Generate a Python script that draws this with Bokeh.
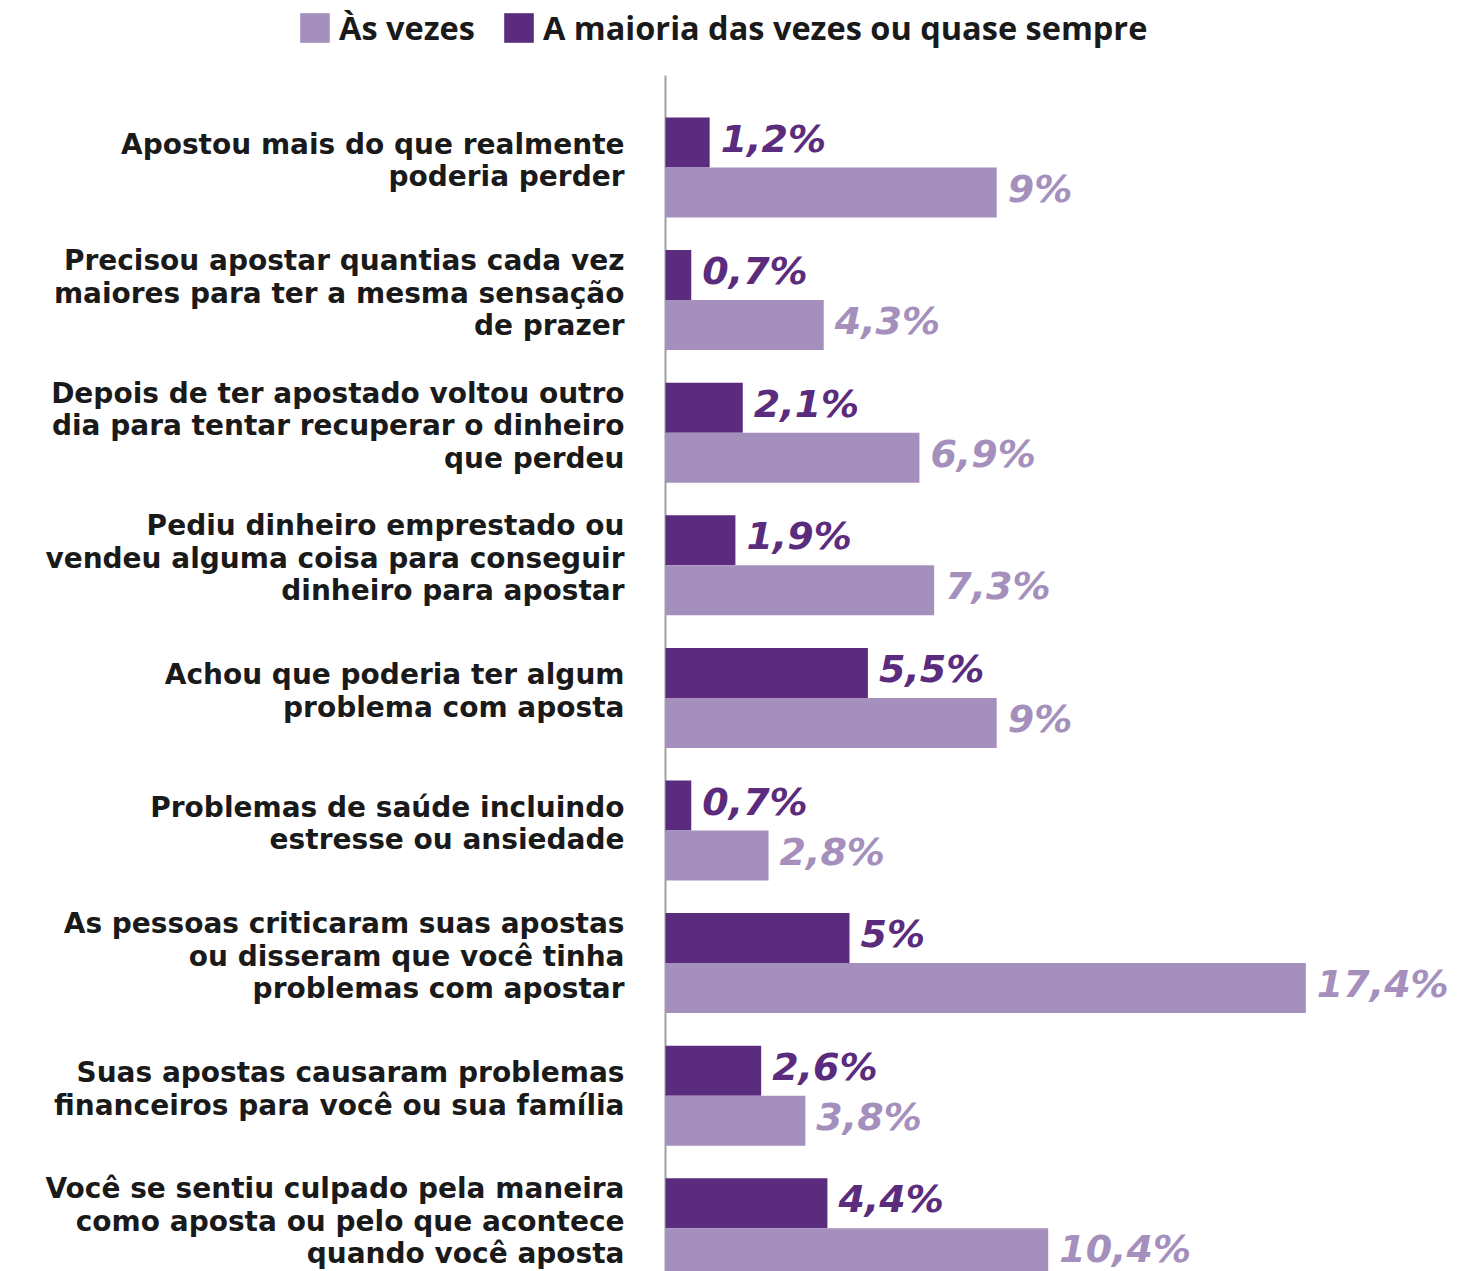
from bokeh.plotting import figure
from bokeh.models import Range1d, ColumnDataSource, Legend, LegendItem
from bokeh.core.properties import value
from bokeh.embed import file_html
from bokeh.resources import INLINE

categories = [
    "Apostou mais do que realmente\npoderia perder",
    "Precisou apostar quantias cada vez\nmaiores para ter a mesma sensação\nde prazer",
    "Depois de ter apostado voltou outro\ndia para tentar recuperar o dinheiro\nque perdeu",
    "Pediu dinheiro emprestado ou\nvendeu alguma coisa para conseguir\ndinheiro para apostar",
    "Achou que poderia ter algum\nproblema com aposta",
    "Problemas de saúde incluindo\nestresse ou ansiedade",
    "As pessoas criticaram suas apostas\nou disseram que você tinha\nproblemas com apostar",
    "Suas apostas causaram problemas\nfinanceiros para você ou sua família",
    "Você se sentiu culpado pela maneira\ncomo aposta ou pelo que acontece\nquando você aposta",
]
as_vezes = [9, 4.3, 6.9, 7.3, 9, 2.8, 17.4, 3.8, 10.4]
maioria = [1.2, 0.7, 2.1, 1.9, 5.5, 0.7, 5.0, 2.6, 4.4]
as_vezes_labels = ["9%", "4,3%", "6,9%", "7,3%", "9%", "2,8%", "17,4%", "3,8%", "10,4%"]
maioria_labels = ["1,2%", "0,7%", "2,1%", "1,9%", "5,5%", "0,7%", "5%", "2,6%", "4,4%"]
series_names = ["Às vezes", "A maioria das vezes ou quase sempre"]

LIGHT = "#a48fbd"
DARK = "#5b2c7e"
TEXT = "#1a1a1a"

W, H = 1465, 1271
px_per_pct = 36.8
x0_px = 665
row_px = 132.6
y0_px = 167
bar_h = 50 / row_px

x_range = Range1d(-x0_px / px_per_pct, (W - x0_px) / px_per_pct)
y_range = Range1d((H - y0_px) / row_px, -y0_px / row_px)

p = figure(width=W, height=H, x_range=x_range, y_range=y_range,
           output_backend="svg", toolbar_location=None,
           x_axis_location=None, y_axis_location=None, min_border=0)
p.grid.visible = False
p.outline_line_color = None
p.background_fill_color = "white"

idx = list(range(len(categories)))
src = ColumnDataSource(dict(
    idx=idx,
    cat=categories,
    light=as_vezes,
    dark=maioria,
    light_lab=as_vezes_labels,
    dark_lab=maioria_labels,
    y_dark=[i - bar_h / 2 for i in idx],
    y_light=[i + bar_h / 2 for i in idx],
))

# axis line
p.segment(x0=0, y0=y_range.end + 75 / row_px, x1=0, y1=y_range.start + 0.2,
          line_color="#a0a0a0", line_width=2)

r_dark = p.hbar(y="y_dark", left=0, right="dark", height=bar_h, source=src,
                fill_color=DARK, line_color=None)
r_light = p.hbar(y="y_light", left=0, right="light", height=bar_h, source=src,
                 fill_color=LIGHT, line_color=None)

p.text(x="dark", y="y_dark", text="dark_lab", source=src, x_offset=11, y_offset=-4,
       text_font=value("DejaVu Sans"), text_font_style="bold italic",
       text_font_size="38px", text_color=DARK, text_baseline="middle", text_align="left")
p.text(x="light", y="y_light", text="light_lab", source=src, x_offset=11, y_offset=-4,
       text_font=value("DejaVu Sans"), text_font_style="bold italic",
       text_font_size="38px", text_color=LIGHT, text_baseline="middle", text_align="left")

p.text(x=0, y="idx", text="cat", source=src, x_offset=-41, y_offset=-7,
       text_font=value("DejaVu Sans"), text_font_style="bold",
       text_font_size="28px", text_color=TEXT, text_baseline="middle",
       text_align="right", text_line_height=0.99)

legend = Legend(items=[LegendItem(label=series_names[0], renderers=[r_light]),
                       LegendItem(label=series_names[1], renderers=[r_dark])],
                orientation="horizontal", location=(296, H - 50),
                glyph_width=37, glyph_height=37, label_standoff=6, spacing=25,
                padding=0, margin=0, border_line_color=None, background_fill_alpha=0,
                label_text_font="Open Sans", label_text_font_style="bold",
                label_text_font_size="32.5px", label_text_color=TEXT)
p.add_layout(legend)

open("out.html", "w").write(file_html(p, INLINE))
